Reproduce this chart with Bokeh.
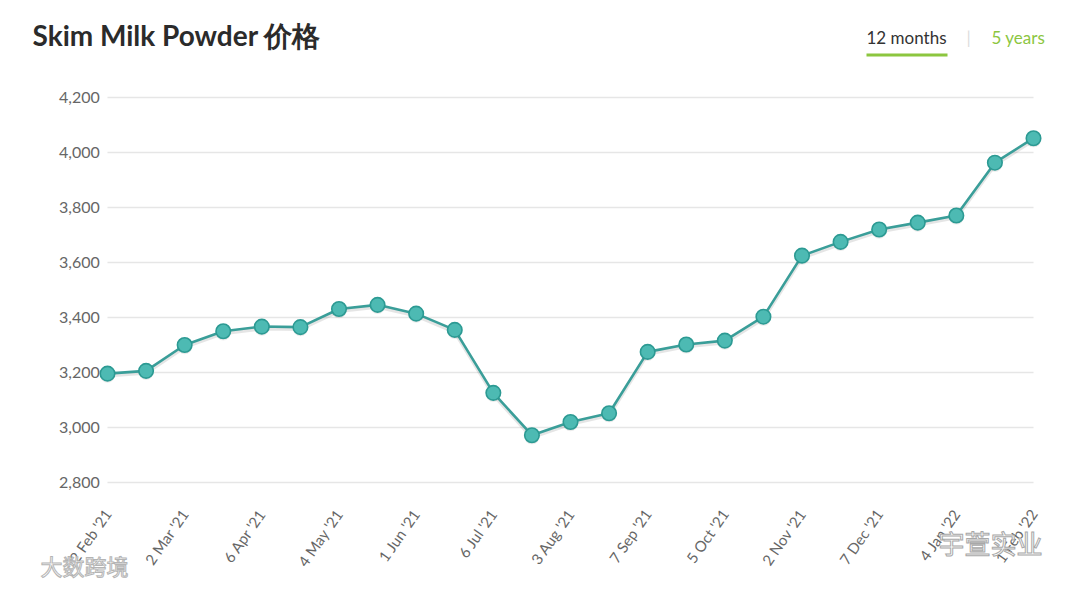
from bokeh.plotting import figure
from bokeh.models import (ColumnDataSource, FixedTicker, NumeralTickFormatter,
                          Label, BoxAnnotation, Range1d)
from bokeh.transform import dodge
from bokeh.embed import file_html
from bokeh.resources import INLINE

# ---- data ----
dates = ["2 Feb '21", "16 Feb '21", "2 Mar '21", "16 Mar '21", "6 Apr '21", "20 Apr '21",
         "4 May '21", "18 May '21", "1 Jun '21", "15 Jun '21", "6 Jul '21", "20 Jul '21",
         "3 Aug '21", "17 Aug '21", "7 Sep '21", "21 Sep '21", "5 Oct '21", "19 Oct '21",
         "2 Nov '21", "16 Nov '21", "7 Dec '21", "21 Dec '21", "4 Jan '22", "18 Jan '22",
         "1 Feb '22"]
prices = [3196, 3206, 3300, 3350, 3367, 3365, 3431, 3446, 3414, 3355, 3126, 2972,
          3020, 3052, 3275, 3302, 3316, 3403, 3625, 3675, 3720, 3745, 3771, 3963, 4052]
y_ticks = [2800, 3000, 3200, 3400, 3600, 3800, 4000, 4200]
title_text = "Skim Milk Powder 价格"
tab_labels = ["12 months", "5 years"]
watermarks = ["大数跨境", "宇萱实业"]

idx = list(range(len(dates)))
src = ColumnDataSource(dict(x=idx, y=prices))

# canvas == frame (all text kept inside the frame so nothing is clipped)
W, H = 1072, 581
X0_PX, DX_PX = 107.0, (1033.0 - 107.0) / 24.0      # pixel of first point, px per step
Y_TOP_VAL, Y_TOP_PX, DY_PX = 4200.0, 97.0, 0.275   # px per value unit

x_start = -X0_PX / DX_PX
x_end = (W - X0_PX) / DX_PX
y_end = Y_TOP_VAL + Y_TOP_PX / DY_PX
y_start = Y_TOP_VAL - (H - Y_TOP_PX) / DY_PX


def sy(py):
    return H - py


p = figure(width=W, height=H, output_backend="svg", toolbar_location=None,
           x_range=Range1d(x_start, x_end), y_range=Range1d(y_start, y_end),
           min_border_left=0, min_border_right=0, min_border_top=0, min_border_bottom=0)
p.outline_line_color = None
p.background_fill_color = "white"
p.border_fill_color = "white"
p.xgrid.visible = False
p.ygrid.visible = False

# grid lines spanning the data extent
p.segment(x0=[0] * len(y_ticks), x1=[len(dates) - 1] * len(y_ticks),
          y0=y_ticks, y1=y_ticks, line_color="#e6e6e6", line_width=1.3)

# shadow + line + markers
p.line(x="x", y=dodge("y", -7, range=p.y_range), source=src,
       line_color="#000000", line_alpha=0.10, line_width=4)
p.line(x="x", y="y", source=src, line_color="#3a9e99", line_width=2.6)
p.scatter(x="x", y=dodge("y", -6, range=p.y_range), source=src, size=15,
          fill_color="#000000", fill_alpha=0.08, line_color=None)
p.scatter(x="x", y="y", source=src, size=14.5, fill_color="#4dbab3",
          line_color="#2c9a93", line_width=1.6)

# axes drawn inside the frame
p.yaxis.fixed_location = -0.2
p.yaxis.ticker = FixedTicker(ticks=y_ticks)
p.yaxis.formatter = NumeralTickFormatter(format="0,0")
p.yaxis.axis_line_color = None
p.yaxis.major_tick_line_color = None
p.yaxis.minor_tick_line_color = None
p.yaxis.major_tick_out = 0
p.yaxis.minor_tick_out = 0
p.yaxis.major_label_standoff = 0
p.yaxis.major_label_text_font = "Lato"
p.yaxis.major_label_text_font_size = "16px"
p.yaxis.major_label_text_color = "#666666"

p.xaxis.fixed_location = min(y_ticks) - 30
p.xaxis.ticker = FixedTicker(ticks=idx[::2])
p.xaxis.major_label_overrides = {i: dates[i] for i in idx[::2]}
p.xaxis.axis_line_color = None
p.xaxis.major_tick_line_color = None
p.xaxis.minor_tick_line_color = None
p.xaxis.major_tick_out = 0
p.xaxis.minor_tick_out = 0
p.xaxis.major_label_orientation = 0.96
p.xaxis.major_label_standoff = 20
p.xaxis.major_label_text_font = "Lato"
p.xaxis.major_label_text_font_size = "15px"
p.xaxis.major_label_text_color = "#666666"

# title and tabs
p.add_layout(Label(x=32, y=sy(34), x_units="screen", y_units="screen",
                   text=title_text, text_font="Lato", text_font_style="bold",
                   text_font_size="28px", text_color="#2b2b2b",
                   text_baseline="middle"))
for txt, x0, col in [(tab_labels[0], 866, "#333333"), ("|", 966, "#dddddd"),
                     (tab_labels[1], 991, "#8cc63f")]:
    p.add_layout(Label(x=x0, y=sy(37), x_units="screen", y_units="screen",
                       text=txt, text_font="Lato", text_font_size="17px",
                       text_color=col, text_baseline="middle"))
p.add_layout(BoxAnnotation(left=866, right=947, top=sy(53), bottom=sy(56),
                           left_units="screen", right_units="screen",
                           top_units="screen", bottom_units="screen",
                           fill_color="#8cc63f", fill_alpha=1, line_color=None,
                           level="overlay"))

# watermarks
p.add_layout(Label(x=40, y=sy(564), x_units="screen", y_units="screen",
                   text=watermarks[0], text_font="Noto Sans CJK SC", text_font_size="22px",
                   text_color="#ffffff", text_outline_color="#b4b4b4",
                   text_baseline="middle"))
p.add_layout(Label(x=938, y=sy(542), x_units="screen", y_units="screen",
                   text=watermarks[1], text_font="Noto Sans CJK SC", text_font_size="26px",
                   text_color="#ffffff", text_outline_color="#a8a8a8",
                   text_baseline="middle"))

open("out.html", "w").write(file_html(p, INLINE))
